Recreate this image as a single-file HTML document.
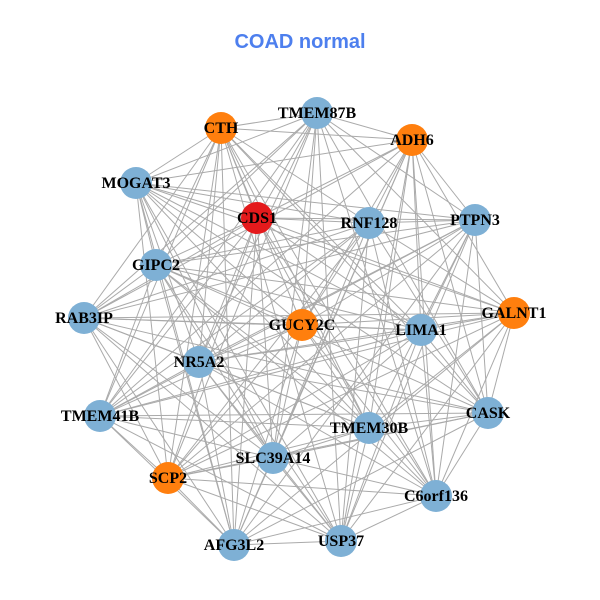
<!DOCTYPE html>
<html><head><meta charset="utf-8"><style>
html,body{margin:0;padding:0;background:#fff;}
svg{display:block}
</style></head><body>
<svg id="g" width="600" height="600" xmlns="http://www.w3.org/2000/svg">
<rect width="600" height="600" fill="#fff"/>
<text x="300" y="48" text-anchor="middle" font-family="Liberation Sans, sans-serif" font-weight="bold" font-size="20" fill="#4d7fee">COAD normal</text>
<g id="edges" stroke="#aaaaaa" stroke-width="1"></g>
<g id="nodes"></g>
</svg>
<script>
var N=[
["TMEM87B",317,113,"b"],["CTH",221,128,"o"],["ADH6",412,140,"o"],["MOGAT3",136,183,"b"],
["CDS1",257,218,"r"],["RNF128",369,223,"b"],["PTPN3",475,220,"b"],["GIPC2",156,265,"b"],
["RAB3IP",84,318,"b"],["GUCY2C",302,325,"o"],["LIMA1",421,330,"b"],["GALNT1",514,313,"o"],
["NR5A2",199,362,"b"],["TMEM41B",100,416,"b"],["CASK",488,413,"b"],["TMEM30B",369,428,"b"],
["SLC39A14",273,458,"b"],["SCP2",168,478,"o"],["C6orf136",436,496,"b"],["USP37",341,541,"b"],
["AFG3L2",234,545,"b"]];
var C={b:"#7eb0d5",o:"#ff7f0e",r:"#e41a1c"};
var ns="http://www.w3.org/2000/svg",E=document.getElementById("edges"),G=document.getElementById("nodes");
for(var i=0;i<N.length;i++)for(var j=i+1;j<N.length;j++){
 if((i*7+j*3)%5==0)continue;
 var l=document.createElementNS(ns,"line");
 l.setAttribute("x1",N[i][1]);l.setAttribute("y1",N[i][2]);l.setAttribute("x2",N[j][1]);l.setAttribute("y2",N[j][2]);
 E.appendChild(l);}
N.forEach(function(n){
 var c=document.createElementNS(ns,"circle");
 c.setAttribute("cx",n[1]);c.setAttribute("cy",n[2]);c.setAttribute("r",16);c.setAttribute("fill",C[n[3]]);
 G.appendChild(c);
 var t=document.createElementNS(ns,"text");
 t.setAttribute("x",n[1]);t.setAttribute("y",n[2]+5);t.setAttribute("text-anchor","middle");
 t.setAttribute("font-family","Liberation Serif, serif");t.setAttribute("font-weight","bold");t.setAttribute("font-size","16");
 t.textContent=n[0];G.appendChild(t);});
</script>
</body></html>
